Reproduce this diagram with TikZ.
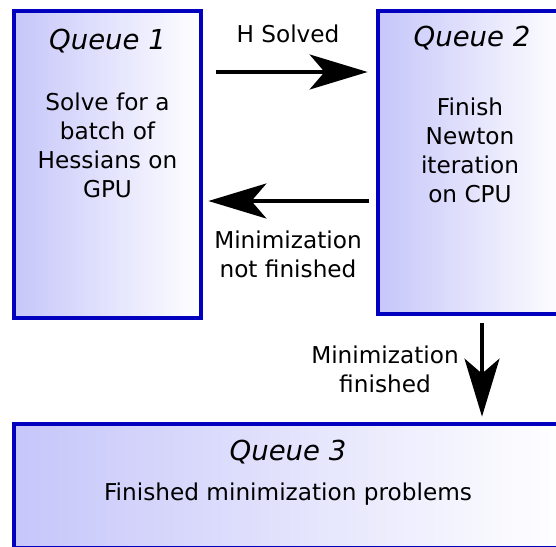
\documentclass[tikz,border=0pt]{standalone}
\usepackage{fontspec}
\setmainfont{DejaVu Sans}
\usetikzlibrary{arrows.meta}

\definecolor{queueedge}{RGB}{0,0,190}
\definecolor{queuefill}{RGB}{198,198,250}

\begin{document}
\begin{tikzpicture}[x=1pt, y=-1pt,
  queue/.style={rectangle, draw=queueedge, line width=4.8pt, left color=queuefill, right color=white, inner sep=0pt},
  title/.style={font=\fontsize{27.5}{33}\selectfont\itshape, anchor=base, inner sep=0pt},
  body/.style={font=\fontsize{23.2}{29}\selectfont, align=center, anchor=base, inner sep=0pt},
  flow/.style={-{Stealth[length=58pt, width=35pt, inset=15pt]}, line width=3.5pt}]
\useasboundingbox (0,0) rectangle (556,546);
% the three queues
\node[queue, minimum width=187, minimum height=307] (q1) at (107.5,164.5) {};
\node[queue, minimum width=188, minimum height=303] (q2) at (472,162.5) {};
\node[queue, minimum width=550, minimum height=124] (q3) at (289,486) {};
\node[title] (t1) at (107.5,49) {Queue 1};
\node[title] (t2) at (472,46) {Queue 2};
\node[title] (t3) at (288,460) {Queue 3};
% base of a wrapped text is its last line
\node[body] (b1) at (107.5,197.5) {Solve for a\\batch of\\Hessians on\\GPU};
\node[body] (b2) at (470,202) {Finish\\Newton\\iteration\\on CPU};
\node[body] (b3) at (288,500) {Finished minimization problems};
% transitions
\coordinate (solved) at (0,72);
\coordinate (again) at (0,201);
\coordinate (done) at (482,0);
\draw[flow, shorten <=13pt, shorten >=8pt] (q1.east |- solved) -- (q2.west |- solved);
\draw[flow, shorten <=7pt, shorten >=5pt] (q2.west |- again) -- (q1.east |- again);
\draw[flow, shorten <=7pt, shorten >=5pt] (done |- q2.south) -- (done |- q3.north);
\node[body] (l1) at (288,42) {H Solved};
\node[body] (l2) at (288,277) {Minimization\\not finished};
\node[body] (l3) at (385,392) {Minimization\\finished};
\end{tikzpicture}
\end{document}
